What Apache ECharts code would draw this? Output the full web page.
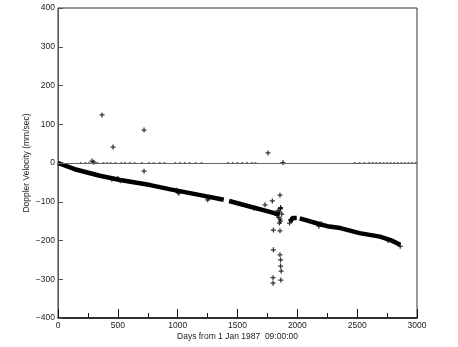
<!DOCTYPE html>
<html>
<head>
<meta charset="utf-8">
<script src="https://cdn.jsdelivr.net/npm/echarts@6/dist/echarts.min.js"></script>
<style>
html, body { margin: 0; padding: 0; background: #fff; }
#chart { width: 458px; height: 347px; }
</style>
</head>
<body>
<div id="chart"></div>
<script>
// main drift of the doppler velocity (null = gap in the record)
var trendDays = [0, 140, 350, 520, 770, 940, 1190, 1385, null, 1430, 1610, 1770, 1850, null, 1940, 1960, 1995, null, 2020, 2190, 2250, 2360, 2520, 2690, 2780, 2860];
var trendVel  = [0, -16, -33, -44, -57, -68, -83, -95, null, -98, -113, -126, -133, null, -152, -142, -142, null, -143, -158, -163, -168, -181, -190, -199, -211];

// single points marked with +
var crossDays = [368, 460, 719, 284, 300, 1755, 1880, 719,
    500, 520, 450, 1000, 990, 1010, 1250, 1260, 1640, 2180, 2200, 2760, 2860,
    1840, 1850, 1860, 1845, 1855, 1860, 1850, 1870, 1830,
    1855, 1791, 1730, 1860, 1800, 1855, 1800, 1855, 1860, 1860, 1865, 1797, 1797, 1862, 1944, 1935];
var crossVel  = [124, 41, 85, 5, 2, 26, 1, -21,
    -40, -46, -42, -75, -70, -78, -95, -90, -117, -163, -157, -200, -215,
    -122, -127, -118, -140, -145, -150, -155, -132, -135,
    -83, -98, -108, -115, -173, -175, -224, -237, -250, -266, -279, -296, -310, -302, -147, -155];

// points lying on the zero line
var zeroDays = [190, 230, 260, 330, 380, 410, 440, 480, 530, 560, 600, 640, 700, 760, 800, 850, 890,
    980, 1020, 1060, 1100, 1150, 1200, 1420, 1460, 1500, 1540, 1580, 1620, 1650,
    2480, 2520, 2560, 2600, 2630, 2660, 2690, 2720, 2750, 2780, 2810, 2840, 2870, 2900, 2930, 2960, 2990];

var yTicks = [-400, -300, -200, -100, 0, 100, 200, 300, 400];

var plus = 'path://M3,0H5V3H8V5H5V8H3V5H0V3H3Z';
var font = 'Liberation Sans';

var myChart = echarts.init(document.getElementById('chart'));

option = {
    animation: false,
    backgroundColor: '#fff',
    grid: {
        left: 58, right: 41, top: 8, bottom: 29,
        show: true, borderColor: '#333', borderWidth: 1
    },
    xAxis: {
        type: 'value',
        min: 0, max: 3000, interval: 500,
        name: 'Days from 1 Jan 1987  09:00:00',
        nameLocation: 'middle',
        nameGap: 14,
        nameMoveOverlap: false,
        nameTextStyle: { fontFamily: font, fontSize: 8.5, color: '#222' },
        axisLine: { onZero: false, lineStyle: { color: '#111', width: 1.5 } },
        axisTick: { inside: true, length: 9, lineStyle: { color: '#111' } },
        minorTick: { show: true, splitNumber: 2, length: 5, lineStyle: { color: '#111' } },
        axisLabel: {
            fontFamily: font, fontSize: 8.5, color: '#222', margin: 3,
            formatter: function (v) { return String(v); }
        },
        splitLine: { show: false }
    },
    yAxis: {
        type: 'value',
        min: yTicks[0], max: yTicks[yTicks.length - 1], interval: 100,
        name: 'Doppler Velocity (mm/sec)',
        nameLocation: 'middle',
        nameGap: 27,
        nameMoveOverlap: false,
        nameTextStyle: { fontFamily: font, fontSize: 8.5, color: '#222' },
        axisLine: { onZero: false, lineStyle: { color: '#555' } },
        axisTick: { inside: true, length: 5, lineStyle: { color: '#555' } },
        axisLabel: {
            fontFamily: font, fontSize: 8.5, color: '#222', margin: 3,
            formatter: function (v) { return String(v).replace('-', '\u2212'); }
        },
        splitLine: { show: false }
    },
    series: [
        {
            type: 'line',
            data: trendDays.map(function (d, i) { return [d, trendVel[i]]; }),
            showSymbol: false,
            connectNulls: false,
            lineStyle: { color: '#000', width: 4.5 },
            markLine: {
                silent: true,
                symbol: 'none',
                label: { show: false },
                lineStyle: { color: '#666', width: 1, type: 'solid' },
                data: [{ yAxis: 0 }]
            },
            z: 3
        },
        {
            type: 'scatter',
            data: crossDays.map(function (d, i) { return [d, crossVel[i]]; }),
            symbol: plus,
            symbolSize: 5,
            itemStyle: { color: '#000' },
            z: 4
        },
        {
            type: 'scatter',
            data: zeroDays.map(function (d) { return [d, 0]; }),
            symbol: 'rect',
            symbolSize: [2, 2],
            itemStyle: { color: '#555' },
            z: 2
        }
    ]
};

myChart.setOption(option);
</script>
</body>
</html>
